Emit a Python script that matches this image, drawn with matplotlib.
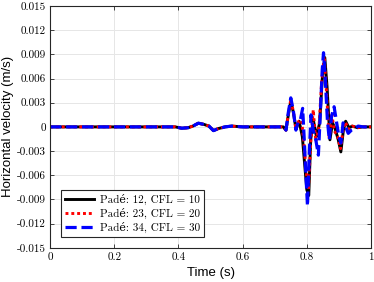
import numpy as np
import matplotlib.pyplot as plt

# small wave near t = 0.45 shared by all runs
t_pre = [0.0, 0.39, 0.41, 0.43, 0.445, 0.462, 0.48, 0.495, 0.509, 0.525, 0.545, 0.566, 0.6, 0.72]
v_pre = [0.0, 0.0, -0.00016, -0.0001, 0.0001, 0.00046, 0.0003, 0.0001, -0.00046, -0.0002, 0.0, 0.0001, 0.0, 0.0]

# Padé 12, CFL 10
t_black = [0.727, 0.735, 0.742, 0.750, 0.758, 0.766, 0.776, 0.786, 0.794, 0.800, 0.806,
           0.812, 0.820, 0.830, 0.840, 0.848, 0.856, 0.863, 0.872, 0.880, 0.888, 0.898,
           0.906, 0.914, 0.921, 0.931, 0.942, 0.958, 0.975, 1.0]
v_black = [0.0, -0.0004, 0.0014, 0.0032, 0.0018, -0.0002, 0.0007, -0.0012, -0.005, -0.0078, -0.0085,
           -0.0016, 0.0009, -0.0012, 0.0005, 0.0059, 0.0086, 0.005, -0.0016, 0.0005, -0.0002, -0.0016,
           -0.0031, -0.0004, 0.0007, -0.0001, 0.0001, -0.0001, 0.0, 0.0]

# Padé 23, CFL 20
t_red = [0.727, 0.735, 0.742, 0.750, 0.758, 0.766, 0.775, 0.784, 0.792, 0.798, 0.805,
         0.812, 0.820, 0.828, 0.838, 0.846, 0.854, 0.861, 0.870, 0.878, 0.886, 0.896,
         0.905, 0.913, 0.920, 0.930, 0.941, 0.957, 0.975, 1.0]
v_red = [0.0, -0.0004, 0.0015, 0.0034, 0.0019, -0.0003, 0.0007, 0.0008, -0.0025, -0.0055, -0.0078,
         -0.002, 0.0021, -0.0018, 0.0, 0.0055, 0.0087, 0.0045, -0.0016, 0.0015, -0.0005, -0.0012,
         -0.0027, -0.0003, 0.0006, -0.0003, 0.0001, -0.0001, 0.0, 0.0]

# Padé 34, CFL 30
t_blue = [0.727, 0.735, 0.742, 0.750, 0.758, 0.766, 0.773, 0.780, 0.787, 0.792, 0.797,
          0.802, 0.808, 0.813, 0.820, 0.828, 0.836, 0.843, 0.848, 0.852, 0.857, 0.864,
          0.870, 0.877, 0.885, 0.893, 0.900, 0.906, 0.913, 0.921, 0.929, 0.939, 0.950,
          0.960, 0.976, 1.0]
v_blue = [0.0, -0.0004, 0.0017, 0.0036, 0.002, -0.0004, 0.0007, 0.0009, 0.0023, -0.0016, -0.0058,
          -0.0098, -0.0029, 0.0015, -0.0004, -0.0016, -0.0035, 0.0025, 0.0071, 0.0092, 0.0063, 0.0009,
          -0.0016, 0.0013, 0.0025, 0.0005, -0.0012, -0.002, 0.0005, 0.0, -0.0008, -0.0004, -0.0002,
          0.0001, 0.0, 0.0]

labels = ["Padé: 12, CFL = 10", "Padé: 23, CFL = 20", "Padé: 34, CFL = 30"]
xticks = [0, 0.2, 0.4, 0.6, 0.8, 1]
xtick_labels = ["0", "0.2", "0.4", "0.6", "0.8", "1"]
yticks = [-0.015, -0.012, -0.009, -0.006, -0.003, 0, 0.003, 0.006, 0.009, 0.012, 0.015]
ytick_labels = ["-0.015", "-0.012", "-0.009", "-0.006", "-0.003", "0",
                "0.003", "0.006", "0.009", "0.012", "0.015"]

serif = ["cmr10", "DejaVu Serif"]

fig = plt.figure(figsize=(3.74, 2.82), dpi=100)
ax = fig.add_axes([0.134, 0.121, 0.858, 0.858])

ax.plot(t_pre + t_black, v_pre + v_black, color="black", lw=2.1, ls="-", label=labels[0])
ax.plot(t_pre + t_red, v_pre + v_red, color="red", lw=2.1, ls=(0, (1, 1)), label=labels[1])
ax.plot(t_pre + t_blue, v_pre + v_blue, color="blue", lw=2.3, ls=(0, (3.5, 1.5)), label=labels[2])

ax.set_xlim(0, 1)
ax.set_ylim(-0.015, 0.015)
ax.set_xticks(xticks)
ax.set_xticklabels(xtick_labels, fontfamily=serif, fontsize=8)
ax.set_yticks(yticks)
ax.set_yticklabels(ytick_labels, fontfamily=serif, fontsize=8)
ax.tick_params(direction="in", top=True, right=True, length=3, width=0.6,
               color="#262626", pad=3)
ax.grid(True, color="#e6e6e6", lw=0.7)
ax.set_axisbelow(True)
for s in ax.spines.values():
    s.set_color("#262626")
    s.set_linewidth(0.8)

ax.set_xlabel("Time (s)", fontfamily="Liberation Sans", fontsize=9.5, labelpad=4)
ax.set_ylabel("Horizontal velocity (m/s)", fontfamily="Liberation Sans", fontsize=9.5, labelpad=2)

leg = ax.legend(loc="lower left", bbox_to_anchor=(0.035, 0.045), fancybox=False,
                edgecolor="#262626", framealpha=1, prop={"family": serif, "size": 8},
                handlelength=2.6, borderpad=0.35, labelspacing=0.25, handletextpad=0.5,
                borderaxespad=0)
leg.get_frame().set_linewidth(0.8)

fig.savefig("out.png", dpi=100)
